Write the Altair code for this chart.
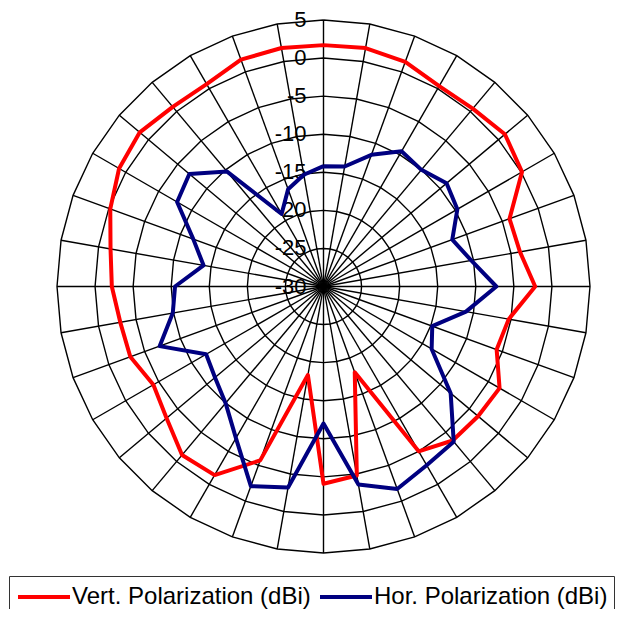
import altair as alt
import pandas as pd

# ---- data ----
angles = list(range(0, 360, 10))  # degrees, clockwise from top
vert = [1.7, 1.8, 1.4, 0.4, 0.5, 1.1, 0.1, -4.0, -3.8, -2.2,
        -5.3, -5.8, -3.3, -3.5, -3.6, -5.0, -18.0, -4.8, -4.1, -18.2,
        -5.7, -1.4, -1.1, -3.1, -4.2, -3.0, -2.9, -2.2, -1.6, -0.2,
        1.0, 1.5, 0.8, 0.7, 1.7, 1.8]
hor = [-14.2, -14.0, -11.6, -9.5, -10.0, -8.9, -9.7, -12.0, -10.3, -7.3,
       -11.0, -14.8, -13.6, -8.2, -3.4, -2.9, -1.7, -3.6, -12.0, -3.2,
       -2.1, -7.0, -10.0, -11.4, -12.2, -7.1, -9.9, -10.5, -14.0, -11.8,
       -7.8, -7.0, -10.3, -19.0, -16.4, -15.1]
series_names = ["Vert. Polarization (dBi)", "Hor. Polarization (dBi)"]
series_colors = ["#FF0000", "#000080"]
ring_values = [-25, -20, -15, -10, -5, 0, 5]
label_values = [5, 0, -5, -10, -15, -20, -25, -30]
r_min = -30
r_max = 5

# ---- tables ----
closed_angles = angles + [angles[0] + 360]
rows = []
for name, vals in zip(series_names, [vert, hor]):
    for i, (a, v) in enumerate(zip(closed_angles, vals + [vals[0]])):
        rows.append({"series": name, "angle": a, "value": v, "order": i})
series_df = pd.DataFrame(rows)

ring_rows = []
for rv in ring_values:
    for i, a in enumerate(closed_angles):
        ring_rows.append({"ring": rv, "angle": a, "value": rv, "order": i})
ring_df = pd.DataFrame(ring_rows)

spoke_df = pd.DataFrame({"angle": angles, "value": [r_max] * len(angles)})
label_df = pd.DataFrame({"value": label_values,
                         "label": [str(v) for v in label_values]})

span = r_max - r_min
xs = alt.Scale(domain=[-span, span], nice=False, zero=False)
ys = alt.Scale(domain=[-span, span], nice=False, zero=False)

PX = f"(datum.value - ({r_min})) * sin(datum.angle * PI / 180)"
PY = f"(datum.value - ({r_min})) * cos(datum.angle * PI / 180)"

rings = alt.Chart(ring_df).transform_calculate(px=PX, py=PY).mark_line(
    color="black", strokeWidth=1.4
).encode(
    x=alt.X("px:Q", scale=xs, axis=None),
    y=alt.Y("py:Q", scale=ys, axis=None),
    detail="ring:N",
    order="order:Q",
)

spokes = alt.Chart(spoke_df).transform_calculate(
    px=PX, py=PY, cx="0", cy="0"
).mark_rule(color="black", strokeWidth=1.4).encode(
    x=alt.X("cx:Q", scale=xs, axis=None),
    y=alt.Y("cy:Q", scale=ys, axis=None),
    x2="px:Q",
    y2="py:Q",
)

labels = alt.Chart(label_df).transform_calculate(
    cx="0", r=f"datum.value - ({r_min})"
).mark_text(
    align="right", baseline="middle", dx=-17, fontSize=22,
    font="Liberation Sans", color="black"
).encode(
    x=alt.X("cx:Q", scale=xs, axis=None),
    y=alt.Y("r:Q", scale=ys, axis=None),
    text="label:N",
)

lines = alt.Chart(series_df).transform_calculate(px=PX, py=PY).mark_line(
    strokeWidth=4, strokeJoin="round"
).encode(
    x=alt.X("px:Q", scale=xs, axis=None),
    y=alt.Y("py:Q", scale=ys, axis=None),
    color=alt.Color(
        "series:N",
        scale=alt.Scale(domain=series_names, range=series_colors),
        legend=alt.Legend(
            title=None, orient="none", legendX=-48, legendY=556,
            direction="horizontal", columns=2,
            symbolType="M-2,0L2,0", symbolSize=676, symbolStrokeWidth=4,
            symbolOffset=14, labelOffset=13, columnPadding=1,
            labelFontSize=24, labelFont="Liberation Sans", labelColor="black",
            labelLimit=400, padding=6, strokeColor="#333333",
        ),
    ),
    detail="series:N",
    order="order:Q",
)

chart = alt.layer(rings, spokes, labels, lines).properties(
    width=533, height=533,
    padding={"left": 49, "top": 12, "right": 25, "bottom": 56},
    autosize=alt.AutoSizeParams(type="none"),
).configure_view(stroke=None)

chart.save("out.html", embed_options={"renderer": "svg", "actions": False})
